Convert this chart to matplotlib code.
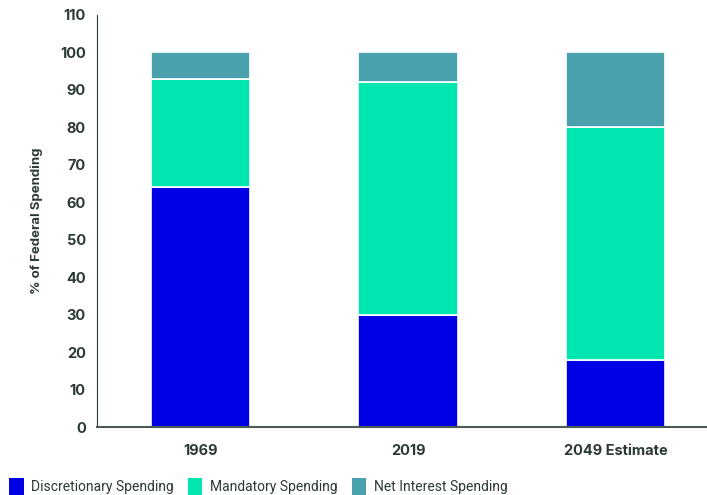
import matplotlib
matplotlib.use('Agg')
import numpy as np
from matplotlib import pyplot as plt
from matplotlib.patches import Patch

plt.rcParams['font.family'] = ['Inter', 'DejaVu Sans']

categories = ['1969', '2019', '2049 Estimate']
discretionary = [64, 30, 18]
mandatory = [29, 62, 62]
net_interest = [7, 8, 20]
series_names = ['Discretionary Spending', 'Mandatory Spending', 'Net Interest Spending']
colors = ['#0000E6', '#00E6B0', '#4BA0AE']
text_color = '#2B3A33'

fig = plt.figure(figsize=(7.07, 4.95), dpi=100)
ax = fig.add_axes([0.137, 0.137, 0.863, 0.833])

x = np.arange(len(categories))
bottom = np.zeros(len(categories))
for vals, col in zip([discretionary, mandatory, net_interest], colors):
    ax.bar(x, vals, width=0.48, bottom=bottom, color=col, edgecolor='white', linewidth=1.2)
    bottom += np.array(vals)

ax.set_ylim(0, 110)
ax.set_xlim(-0.5, 2.44)
ax.set_yticks(range(0, 111, 10))
ax.set_xticks(x)
ax.set_xticklabels(categories)
ax.tick_params(axis='both', length=0, labelsize=10.5, colors=text_color, pad=8)
ax.tick_params(axis='x', pad=12)
for lbl in ax.get_xticklabels() + ax.get_yticklabels():
    lbl.set_fontweight('bold')
ax.set_ylabel('% of Federal Spending', fontsize=9.5, fontweight='bold', color=text_color, labelpad=12)

for s in ['top', 'right']:
    ax.spines[s].set_visible(False)
ax.spines['left'].set_color(text_color)
ax.spines['bottom'].set_color('#4A5A55')
ax.spines['bottom'].set_linewidth(1.5)

handles = [Patch(facecolor=c, edgecolor='none') for c in colors]
fig.legend(handles, series_names, loc='lower left', bbox_to_anchor=(-0.005, -0.025), ncol=3,
           frameon=False, prop={'family': ['Roboto', 'DejaVu Sans'], 'size': 10},
           handlelength=1.05, handleheight=1.45, borderpad=0.4,
           handletextpad=0.55, columnspacing=1.0, labelcolor=text_color)

fig.savefig('out.png', dpi=100)
